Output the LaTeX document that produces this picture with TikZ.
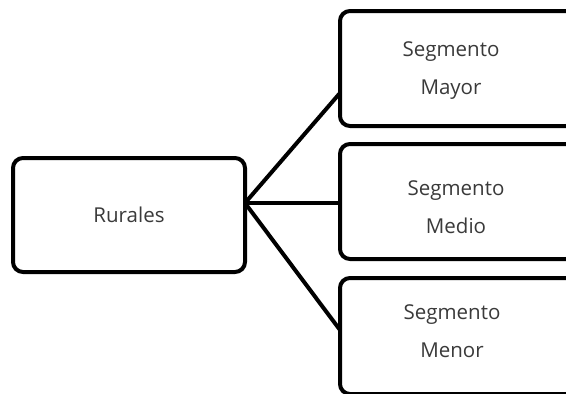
\documentclass[tikz,border=0pt]{standalone}
\usepackage{fontspec}
\setmainfont{Open Sans}
\usetikzlibrary{calc}
\definecolor{txt}{HTML}{3A3A3A}
\begin{document}
\begin{tikzpicture}[x=1pt,y=1pt,
  box/.style={draw=black, line width=4pt, rounded corners=10pt, fill=white,
    inner sep=0pt, outer sep=0pt},
  lbl/.style={align=center, text=txt, inner sep=0pt,
    font=\fontsize{20.5}{38}\selectfont},
  link/.style={draw=black, line width=4pt}]
\useasboundingbox (0,0) rectangle (566,-394);
\clip (0,0) rectangle (566,-394);
\node[box, minimum width=232pt, minimum height=114pt] (rur) at (129,-215) {};
\node[box, minimum width=236pt, minimum height=115pt] (may) at (458,-68.5) {};
\node[box, minimum width=236pt, minimum height=115pt] (med) at (458,-201.5) {};
\node[box, minimum width=236pt, minimum height=116pt] (men) at (458,-336) {};
\node[lbl] (trur) at (129,-215) {Rurales};
\node[lbl] (tmay) at (451,-71) {Segmento\\Mayor};
\node[lbl] (tmed) at (456,-207) {Segmento\\Medio};
\node[lbl] (tmen) at (452,-331) {Segmento\\Menor};
\coordinate (o) at ($(rur.east)+(0,12)$);
\coordinate (a) at ($(may.west)+(0,-24.5)$);
\coordinate (b) at ($(med.west)+(0,-1.5)$);
\coordinate (c) at ($(men.west)+(0,6)$);
\draw[link] (o) -- (a);
\draw[link] (o) -- (b);
\draw[link] (o) -- (c);
\end{tikzpicture}
\end{document}
